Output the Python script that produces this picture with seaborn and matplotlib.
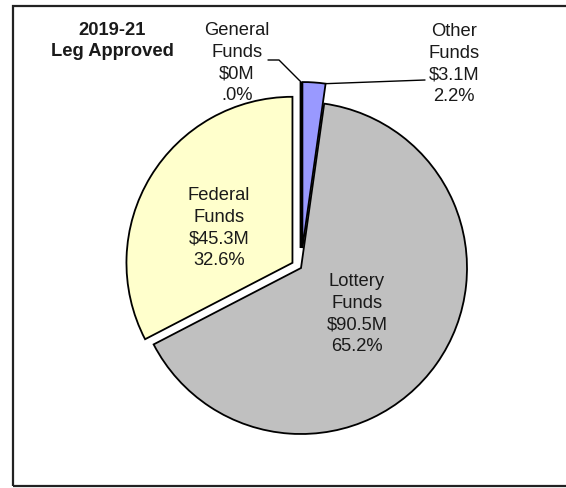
import numpy as np
import matplotlib
matplotlib.use("Agg")
import matplotlib.pyplot as plt
from matplotlib.patches import Rectangle
import seaborn as sns

# ---- data ----
categories = ["General\nFunds", "Other\nFunds", "Lottery\nFunds", "Federal\nFunds"]
values = [0.0, 3.1, 90.5, 45.3]
amount_labels = ["$0M", "$3.1M", "$90.5M", "$45.3M"]
pct_labels = [".0%", "2.2%", "65.2%", "32.6%"]
title_text = "2019-21\nLeg Approved"

colors = ["#FFFFFF", "#9999FF", "#C0C0C0", "#FFFFCC"]
explode_px = [20, 20, 0, 10]

sns.set_style("white")
plt.rcParams["font.family"] = ["Liberation Sans", "DejaVu Sans"]

W, H = 566, 488
fig = plt.figure(figsize=(W / 100, H / 100), dpi=100)
ax = fig.add_axes([0, 0, 1, 1])

def py(y):
    return H - y

cx, cy, R = 301, py(268), 166
wedges, _ = ax.pie(values, colors=colors, explode=explode_px, startangle=90,
                   counterclock=False, radius=R, center=(cx, cy),
                   wedgeprops=dict(edgecolor="black", linewidth=1.3),
                   frame=True)
ax.set_xlim(0, W)
ax.set_ylim(0, H)
ax.set_aspect("equal")
ax.axis("off")
wedges[0].set_linewidth(2.0)

fs = 13.2
ls = 1.36
txt_kw = dict(ha="center", va="center", fontsize=fs, color="#1a1a1a", linespacing=ls)

labels = [f"{c}\n{a}\n{p}" for c, a, p in zip(categories, amount_labels, pct_labels)]
label_pos = [(237, 63), (454, 64), (357, 314), (219, 228)]
for lab, (x, y) in zip(labels, label_pos):
    ax.text(x, py(y), lab, **txt_kw)

ax.text(112, py(41), title_text, ha="center", va="center", fontsize=fs,
        fontweight="bold", color="#1a1a1a", linespacing=ls)

def arc_point(w, ang):
    c = w.center
    r = w.r
    return c[0] + r * np.cos(np.radians(ang)), c[1] + r * np.sin(np.radians(ang))

# General leader
gx, gy = arc_point(wedges[0], wedges[0].theta1)
ax.plot([268, 279, gx], [py(60), py(60), gy], color="black", lw=1.0)
# Other leader
ow = wedges[1]
ox, oy = arc_point(ow, min(ow.theta1, ow.theta2))
ax.plot([425, ox], [py(80), oy], color="black", lw=1.0)

# frame
fig.patches.append(Rectangle((13 / W, (H - 486) / H), (W + 10 - 13) / W, (486 - 6) / H,
                             transform=fig.transFigure, fill=False,
                             edgecolor="#222222", linewidth=1.6, clip_on=False))

fig.savefig("out.png", dpi=100)
